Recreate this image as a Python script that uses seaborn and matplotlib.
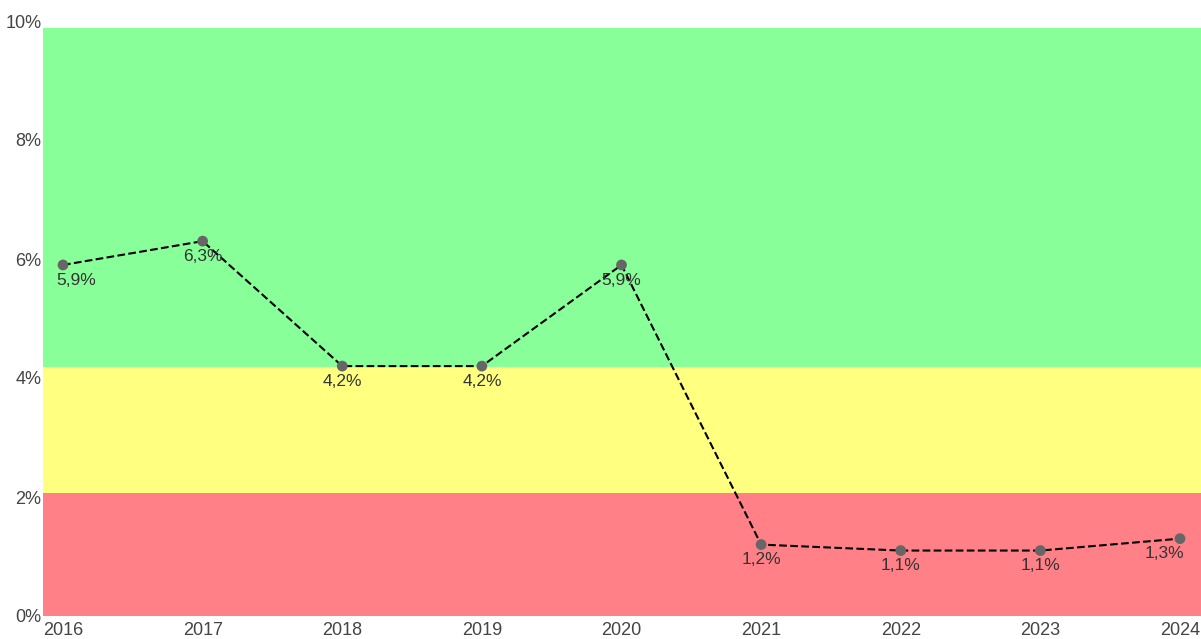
import matplotlib

matplotlib.use("Agg")

import matplotlib.pyplot as plt
import pandas as pd
import seaborn as sns

years = [2016, 2017, 2018, 2019, 2020, 2021, 2022, 2023, 2024]
values = [5.9, 6.3, 4.2, 4.2, 5.9, 1.2, 1.1, 1.1, 1.3]

band_edges = [0, 2.07, 4.18, 9.88]
band_colors = ["#ff8087", "#ffff80", "#88ff99"]

y_ticks = [0, 2, 4, 6, 8, 10]

sns.set_style("white")
plt.rcParams["font.family"] = ["Liberation Sans", "DejaVu Sans"]

df = pd.DataFrame({"year": years, "value": values})

W, H = 1201, 639
fig = plt.figure(figsize=(W / 100, H / 100), dpi=100)
ax = fig.add_axes([43 / W, (H - 616) / H, (W - 43) / W, (616 - 21) / H])

for lo, hi, col in zip(band_edges[:-1], band_edges[1:], band_colors):
    ax.axhspan(lo, hi, color=col, lw=0, zorder=0)

sns.lineplot(
    data=df, x="year", y="value", ax=ax,
    color="black", linestyle="--", linewidth=1.5, zorder=2,
)
sns.scatterplot(
    data=df, x="year", y="value", ax=ax,
    color="#666666", s=60, edgecolor="none", zorder=3,
)

n = len(years)
for i, (x, y) in enumerate(zip(years, values)):
    # edge labels are kept inside the plot area
    if i == 0:
        ha, dx = "left", -4.5
    elif i == n - 1:
        ha, dx = "right", 3
    else:
        ha, dx = "center", 0
    ax.annotate(
        f"{y:.1f}%".replace(".", ","), (x, y), xytext=(dx, -5.5),
        textcoords="offset points", ha=ha, va="top",
        fontsize=12.5, color="#333333", zorder=4,
    )

ax.set_xlim(2016 - 20 / 139.6, 2024 + 21 / 139.6)
ax.set_ylim(0, 10)
ax.set_xticks(years)
ax.set_xticklabels([str(y) for y in years])
ax.set_yticks(y_ticks)
ax.set_yticklabels([f"{t}%" for t in y_ticks])
ax.tick_params(axis="both", length=0, labelsize=13, labelcolor="#444444")
ax.tick_params(axis="y", pad=1)
ax.tick_params(axis="x", pad=4)
ax.set_xlabel("")
ax.set_ylabel("")
for s in ax.spines.values():
    s.set_visible(False)

fig.savefig("out.png", dpi=100)
